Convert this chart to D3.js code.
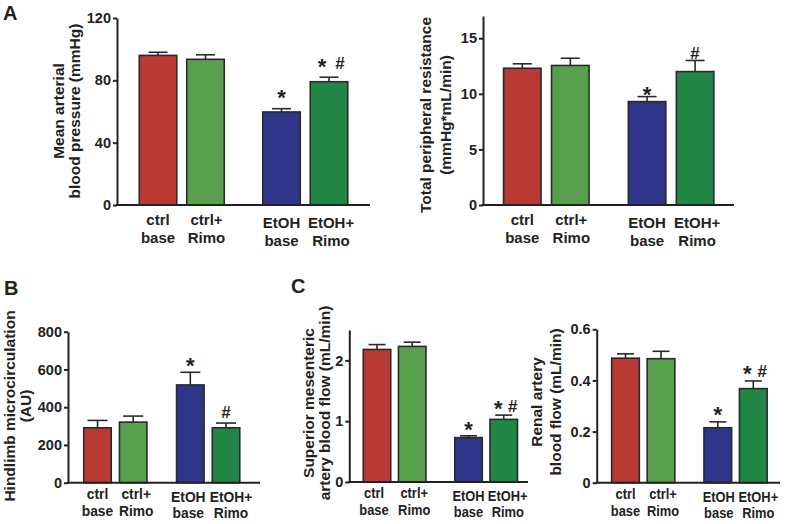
<!DOCTYPE html>
<html><head><meta charset="utf-8">
<script src="https://cdn.jsdelivr.net/npm/d3@7"></script>
<style>
body{margin:0;background:#fff;}
svg{display:block;font-family:"Liberation Sans",Arial,sans-serif;font-weight:bold;}
</style></head><body>
<svg id="chart" width="785" height="524"></svg>
<script>
// ---- data ----
const categoryTop = ["ctrl", "ctrl+", "EtOH", "EtOH+"];
const categoryBottom = ["base", "Rimo", "base", "Rimo"];
const groupColors = ["#B93A35", "#58A04D", "#2E3589", "#228646"];

const mapValues = [96, 93.5, 59.7, 79.1];
const mapErrors = [2, 2.9, 2.1, 2.9];
const mapMarks = [[], [], ["*"], ["*", "#"]];
const mapTicks = [0, 40, 80, 120];

const tprValues = [12.3, 12.55, 9.3, 12.0];
const tprErrors = [0.4, 0.65, 0.45, 1.0];
const tprMarks = [[], [], ["*"], ["#"]];
const tprTicks = [0, 5, 10, 15];

const hindValues = [291, 321, 518, 291];
const hindErrors = [39, 32, 67, 25];
const hindMarks = [[], [], ["*"], ["#"]];
const hindTicks = [0, 200, 400, 600, 800];

const smaValues = [2.18, 2.23, 0.73, 1.03];
const smaErrors = [0.08, 0.07, 0.03, 0.07];
const smaMarks = [[], [], ["*"], ["*", "#"]];
const smaTicks = [0, 1, 2];

const renalValues = [0.487, 0.485, 0.215, 0.368];
const renalErrors = [0.017, 0.029, 0.023, 0.030];
const renalMarks = [[], [], ["*"], ["*", "#"]];
const renalTicks = [0, 0.2, 0.4, 0.6];

// ---- layout (styling only) ----
const panels = [
  {values: mapValues, errors: mapErrors, marks: mapMarks, ticks: mapTicks, max: 120,
   title: ["Mean arterial", "blood pressure (mmHg)"], titleX: [64, 80], titleY: 111,
   axisX: 117, endX: 370, yBottom: 205, yTop: 18, c0: 158, step: 47.5, barW: 37.5, capW: 19,
   markGap: 16, markSpread: [-7, 11], catDy: [20, 38], catFont: 15, catScale: 1, catShift: [0, 1, 0, 2]},
  {values: tprValues, errors: tprErrors, marks: tprMarks, ticks: tprTicks, max: 17,
   title: ["Total peripheral resistance", "(mmHg*mL/min)"], titleX: [431, 451], titleY: 115,
   axisX: 483, endX: 734, yBottom: 205, yTop: 16, c0: 522.3, step: 48, barW: 37.5, capW: 19,
   markGap: 7.5, markSpread: [-7, 11], catDy: [20, 38], catFont: 15, catScale: 1, catShift: [0, 1, 0, 2]},
  {values: hindValues, errors: hindErrors, marks: hindMarks, ticks: hindTicks, max: 800,
   title: ["Hindlimb microcirculation", "(AU)"], titleX: [15, 31], titleY: 406,
   axisX: 68, endX: 260, yBottom: 482.7, yTop: 331.7, c0: 97.5, step: 35.7, barW: 27.5, capW: 20,
   markGap: 11.5, markSpread: [-6, 9], catDy: [16.5, 33], catFont: 15, catScale: 0.92, catShift: [0, 3, -2, 5]},
  {values: smaValues, errors: smaErrors, marks: smaMarks, ticks: smaTicks, max: 2.5,
   title: ["Superior mesenteric", "artery blood flow (mL/min)"], titleX: [314, 330], titleY: 403,
   axisX: 349.3, endX: 528, yBottom: 482, yTop: 330, c0: 377, step: 35.2, barW: 27.5, capW: 17,
   markGap: 11.5, markSpread: [-5.5, 9], catDy: [16.5, 33], catFont: 15, catScale: 0.86, catShift: [-3, 2, 0, 4]},
  {values: renalValues, errors: renalErrors, marks: renalMarks, ticks: renalTicks, max: 0.6,
   title: ["Renal artery", "blood flow (mL/min)"], titleX: [542, 561], titleY: 402,
   axisX: 596.7, endX: 780, yBottom: 482.7, yTop: 329.3, c0: 625.5, step: 35.5, barW: 27.7, capW: 17,
   markGap: 12, markSpread: [-6, 9], catDy: [16.5, 33], catFont: 15, catScale: 0.86, catShift: [0, 2, 1, 5]}
];
const panelLetters = [{t: "A", x: 3, y: 20}, {t: "B", x: 4, y: 295}, {t: "C", x: 291, y: 293}];
const ink = "#222";
const groupGap = 0.6;

const svg = d3.select("#chart");

panels.forEach(p => {
  const y = d3.scaleLinear().domain([0, p.max]).range([p.yBottom, p.yTop]);
  const x = d3.scaleLinear().domain([0, 1]).range([p.c0, p.c0 + p.step]);
  const cx = i => x(i + (i >= 2 ? groupGap : 0));
  const g = svg.append("g");

  // bars
  g.selectAll("rect.bar").data(p.values).join("rect")
    .attr("x", (d, i) => cx(i) - p.barW / 2)
    .attr("y", d => y(d))
    .attr("width", p.barW)
    .attr("height", d => y(0) - y(d))
    .attr("fill", (d, i) => groupColors[i])
    .attr("stroke", "#2a2a2a").attr("stroke-width", 1.6);

  // error bars (upper only) and significance marks
  p.values.forEach((v, i) => {
    const top = y(v + p.errors[i]);
    g.append("line").attr("x1", cx(i)).attr("x2", cx(i)).attr("y1", y(v)).attr("y2", top)
      .attr("stroke", "#2a2a2a").attr("stroke-width", 1.6);
    g.append("line").attr("x1", cx(i) - p.capW / 2).attr("x2", cx(i) + p.capW / 2).attr("y1", top).attr("y2", top)
      .attr("stroke", "#2a2a2a").attr("stroke-width", 1.6);
    const marks = p.marks[i];
    const centerY = top - p.markGap;
    marks.forEach((m, k) => {
      const dx = marks.length === 1 ? 0 : p.markSpread[k];
      const fs = m === "*" ? 22 : 17;
      const shift = marks.length === 1 ? 0 : 2;
      const base = m === "*" ? centerY + 0.57 * fs : centerY + shift + 0.35 * fs;
      g.append("text").attr("x", cx(i) + dx).attr("y", base)
        .attr("text-anchor", "middle").attr("font-size", fs).attr("fill", ink).text(m);
    });
  });

  // y axis
  const ax = g.append("g").attr("transform", `translate(${p.axisX},0)`)
    .call(d3.axisLeft(y).tickValues(p.ticks).tickSize(4).tickSizeOuter(0).tickPadding(2).tickFormat(d => String(d)));
  ax.attr("font-family", null).attr("font-size", null);
  ax.select(".domain").attr("stroke", ink).attr("stroke-width", 2);
  ax.selectAll(".tick line").attr("stroke", ink).attr("stroke-width", 2);
  ax.selectAll(".tick text").attr("fill", ink).attr("font-size", 14.5);

  // x baseline
  g.append("line").attr("x1", p.axisX - 1).attr("x2", p.endX).attr("y1", y(0)).attr("y2", y(0))
    .attr("stroke", ink).attr("stroke-width", 2);

  // category labels
  categoryTop.forEach((c, i) => {
    const off = i >= 2 ? 2.5 : 0;
    const t = g.append("text")
      .attr("transform", `translate(${cx(i) + p.catShift[i]},${y(0)}) scale(${p.catScale},1)`)
      .attr("text-anchor", "middle").attr("font-size", p.catFont).attr("fill", ink);
    t.append("tspan").attr("x", 0).attr("y", p.catDy[0] + off).text(c);
    t.append("tspan").attr("x", 0).attr("y", p.catDy[1] + off).text(categoryBottom[i]);
  });

  // y title
  p.title.forEach((line, k) => {
    g.append("text").attr("transform", `translate(${p.titleX[k]},${p.titleY}) rotate(-90)`)
      .attr("text-anchor", "middle").attr("font-size", 15.5).attr("fill", ink).text(line);
  });
});

panelLetters.forEach(l => {
  svg.append("text").attr("x", l.x).attr("y", l.y).attr("font-size", 20).attr("fill", ink).text(l.t);
});
</script>
</body></html>
